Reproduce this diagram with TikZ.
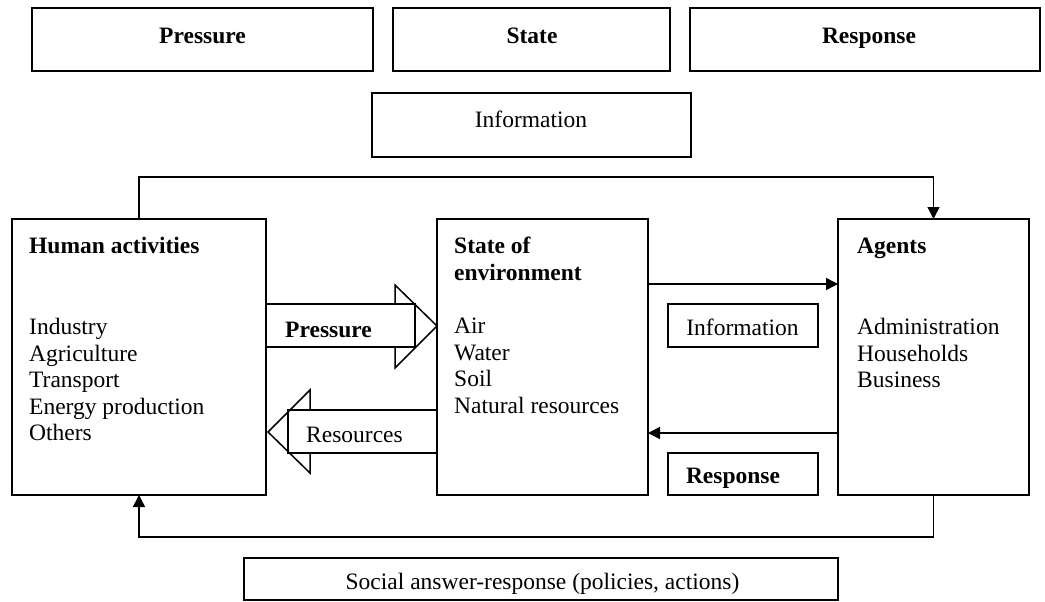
\documentclass[tikz,border=0pt]{standalone}
\usepackage{fontspec}
\setmainfont{Liberation Serif}
\usetikzlibrary{arrows.meta}
\begin{document}
\begin{tikzpicture}[x=1pt,y=-1pt,
  box/.style={draw, line width=1.5pt, inner sep=0pt, outer sep=0pt},
  lbl/.style={font=\fontsize{23.5}{26.5}\selectfont, inner sep=0pt},
  blbl/.style={font=\fontsize{23.5}{26.5}\selectfont\bfseries, inner sep=0pt},
  conn/.style={line width=1.5pt},
  arr/.style={conn, -{Triangle[length=12pt,width=12pt]}},
  blockarrow/.style={draw, line width=1.5pt, line join=miter}]
\useasboundingbox (0,0) rectangle (1045,602);

% top row
\node[box, minimum width=341pt, minimum height=63pt] (pbox) at (202.5,39.5) {};
\node[blbl, anchor=base] (pboxt) at (202.5,44) {Pressure};
\node[box, minimum width=277pt, minimum height=63pt] (sbox) at (531.5,39.5) {};
\node[blbl, anchor=base] (sboxt) at (532,44) {State};
\node[box, minimum width=350pt, minimum height=63pt] (rbox) at (865,39.5) {};
\node[blbl, anchor=base] (rboxt) at (869,44) {Response};
\node[box, minimum width=319pt, minimum height=64pt] (ibox) at (531.5,125) {};
\node[lbl, anchor=base] (iboxt) at (531,128) {Information};

% main boxes
\node[box, minimum width=254pt, minimum height=276pt] (ha) at (139,357) {};
\node[box, minimum width=211pt, minimum height=276pt] (se) at (542.5,357) {};
\node[box, minimum width=191pt, minimum height=276pt] (ag) at (933.5,357) {};

\node[blbl, anchor=base west] (hatitle) at (29,253) {Human activities};
\node[lbl, anchor=north west, align=left] (halist) at (29,318) {Industry\\Agriculture\\Transport\\Energy production\\Others};
\node[blbl, anchor=north west, align=left] (setitle) at (454,237) {State of\\environment};
\node[lbl, anchor=north west, align=left] (selist) at (454,318) {Air\\Water\\Soil\\Natural resources};
\node[blbl, anchor=base west] (agtitle) at (857,253) {Agents};
\node[lbl, anchor=north west, align=left] (aglist) at (857,318) {Administration\\Households\\Business};

% middle small boxes
\node[box, minimum width=150pt, minimum height=43pt] (minfo) at (743,325.5) {};
\node[lbl, anchor=base] (minfot) at (742.5,335) {Information};
\node[box, minimum width=150pt, minimum height=42pt] (mresp) at (743,474) {};
\node[blbl, anchor=base] (mrespt) at (733,483) {Response};

% bottom box
\node[box, minimum width=594pt, minimum height=42pt] (soc) at (541,579) {};
\node[lbl, anchor=base] (soct) at (542.5,589) {Social answer-response (policies, actions)};

% connectors
\coordinate (tl) at (139,177);
\draw[arr] (ha.north) -- (tl) -| (ag.north);
\coordinate (infoy) at (0,284);
\draw[arr] (se.east |- infoy) -- (ag.west |- infoy);
\coordinate (respy) at (0,433);
\draw[arr] (ag.west |- respy) -- (se.east |- respy);
\coordinate (bl) at (933.5,537);
\draw[arr] (ag.south) -- (bl) -| (ha.south);

% block arrows
\draw[blockarrow] (266,304) -- (415,304) -- (415,347) -- (266,347);
\draw[blockarrow] (395,304) -- (395,285) -- (437,326) -- (395,368) -- (395,347);
\node[blbl, anchor=base] (plbl) at (328.5,337) {Pressure};

\draw[blockarrow] (437,410) -- (288,410) -- (288,453) -- (437,453);
\draw[blockarrow] (310,410) -- (310,390) -- (268,432) -- (310,473) -- (310,453);
\node[lbl, anchor=base] (rlbl) at (354.5,442) {Resources};
\end{tikzpicture}
\end{document}
